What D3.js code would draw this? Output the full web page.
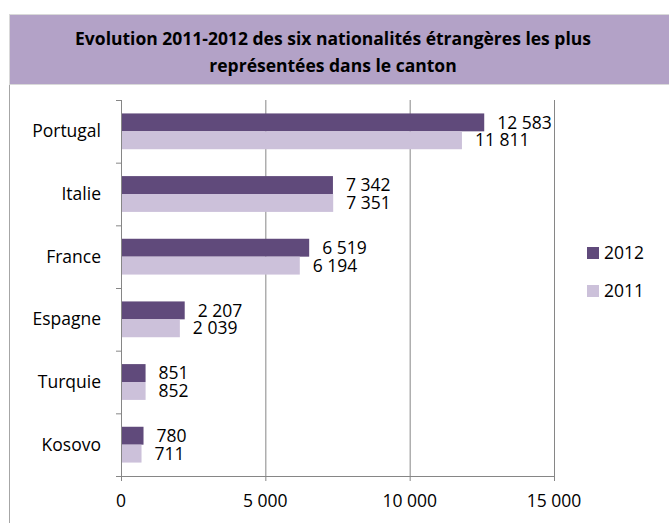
<!DOCTYPE html>
<html>
<head>
<meta charset="utf-8">
<script src="https://cdn.jsdelivr.net/npm/d3@7"></script>
<style>
body{margin:0;background:#fff;}
text{font-family:"Open Sans",sans-serif;fill:#000;}
</style>
</head>
<body>
<svg id="chart"></svg>
<script>
// chart data
var countries=["Portugal","Italie","France","Espagne","Turquie","Kosovo"]
var values2012=[12583,7342,6519,2207,851,780]
var values2011=[11811,7351,6194,2039,852,711]
var years=["2012","2011"]
var colors=["#604a7b","#ccc1da"]
var xTicks=[0,5000,10000,15000]
var titleLines=["Evolution 2011-2012 des six nationalités étrangères les plus","représentées dans le canton"]

var screen={width:669,height:523}
var margins={top:100,right:115,bottom:47,left:121}
var fs="17.5px"

var svg=d3.select("#chart")
  .attr("width",screen.width)
  .attr("height",screen.height)

// frame + title box
svg.append("line").attr("x1",9.5).attr("x2",9.5).attr("y1",14).attr("y2",screen.height)
  .attr("stroke","#a6a6a6")
svg.append("rect").attr("x",9.5).attr("y",14.5).attr("width",670).attr("height",70)
  .attr("fill","#b3a2c7").attr("stroke","#d9d9d9")
svg.selectAll(".title").data(titleLines).enter().append("text")
  .attr("class","title")
  .attr("x",333).attr("y",function(d,i){return 45+i*27})
  .attr("text-anchor","middle")
  .style("font-weight","bold").style("font-size","17.5px")
  .text(function(d){return d})

var x=d3.scaleLinear().domain([0,15000]).range([margins.left,554])
var y=d3.scaleBand().domain(countries).range([margins.top,screen.height-margins.bottom])
  .paddingInner(0.4286).paddingOuter(0.2143)
var yb=d3.scaleBand().domain([0,1]).range([0,y.bandwidth()])

var bottom=screen.height-margins.bottom

// gridlines
svg.append("g").selectAll("line").data(xTicks.slice(1)).enter().append("line")
  .attr("x1",function(d){return x(d)+0.5}).attr("x2",function(d){return x(d)+0.5})
  .attr("y1",margins.top).attr("y2",bottom)
  .attr("stroke","#868686").attr("stroke-width",1)

// bars
var series=[values2012,values2011]
series.forEach(function(vals,s){
  svg.append("g").selectAll("rect").data(countries).enter().append("rect")
    .attr("x",x(0))
    .attr("y",function(d){return y(d)+yb(s)})
    .attr("width",function(d,i){return x(vals[i])-x(0)})
    .attr("height",yb.bandwidth())
    .attr("fill",colors[s])
  svg.append("g").selectAll("text").data(countries).enter().append("text")
    .attr("x",function(d,i){return x(vals[i])+13})
    .attr("y",function(d){return y(d)+yb(s)+yb.bandwidth()/2})
    .attr("dy","0.35em")
    .style("font-size",fs)
    .text(function(d,i){return d3.format(",")(vals[i]).replace(/,/g," ")})
})

// y axis
svg.append("line").attr("x1",x(0)+0.5).attr("x2",x(0)+0.5).attr("y1",margins.top).attr("y2",bottom)
  .attr("stroke","#868686")
svg.append("g").selectAll("line").data(d3.range(countries.length+1)).enter().append("line")
  .attr("x1",x(0)-5).attr("x2",x(0))
  .attr("y1",function(i){return margins.top+i*(bottom-margins.top)/countries.length+0.5})
  .attr("y2",function(i){return margins.top+i*(bottom-margins.top)/countries.length+0.5})
  .attr("stroke","#868686")
svg.append("g").selectAll("text").data(countries).enter().append("text")
  .attr("x",101).attr("y",function(d){return y(d)+y.bandwidth()/2})
  .attr("dy","0.35em").attr("text-anchor","end")
  .style("font-size",fs)
  .text(function(d){return d})

// x axis
svg.append("line").attr("x1",x(0)-5).attr("x2",x(15000)+1).attr("y1",bottom+0.5).attr("y2",bottom+0.5)
  .attr("stroke","#868686")
svg.append("g").selectAll("line").data(xTicks).enter().append("line")
  .attr("x1",function(d){return x(d)+0.5}).attr("x2",function(d){return x(d)+0.5})
  .attr("y1",bottom).attr("y2",bottom+5)
  .attr("stroke","#868686")
svg.append("g").selectAll("text").data(xTicks).enter().append("text")
  .attr("x",function(d){return x(d)}).attr("y",501)
  .attr("dy","0.35em").attr("text-anchor","middle")
  .style("font-size",fs)
  .text(function(d){return d3.format(",")(d).replace(/,/g," ")})

// legend
var legend=svg.append("g").selectAll("g").data(years).enter().append("g")
  .attr("transform",function(d,i){return "translate(587,"+(247+i*38)+")"})
legend.append("rect").attr("width",12).attr("height",12)
  .attr("fill",function(d,i){return colors[i]})
legend.append("text").attr("x",17).attr("y",6).attr("dy","0.35em")
  .style("font-size",fs)
  .text(function(d){return d})
</script>
</body>
</html>
